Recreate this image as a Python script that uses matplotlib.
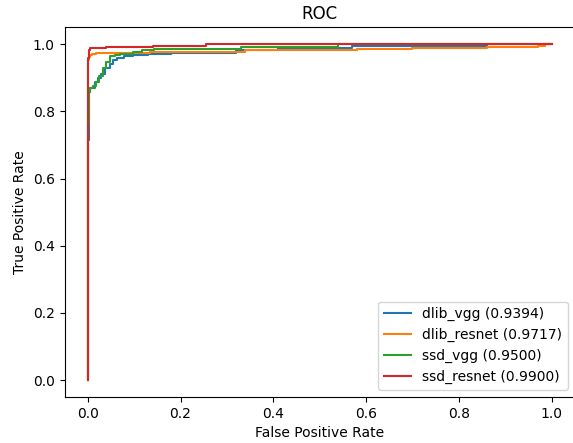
import matplotlib
matplotlib.use("Agg")
import matplotlib.pyplot as plt

# ROC curve points (fpr, tpr)
dlib_vgg_fpr = [0.0, 0.0, 0.003, 0.003, 0.006, 0.006, 0.015, 0.015, 0.022, 0.022, 0.028, 0.028, 0.037, 0.037,
                0.048, 0.048, 0.055, 0.055, 0.063, 0.063, 0.078, 0.078, 0.098, 0.098, 0.13, 0.13,
                0.18, 0.18, 0.24, 0.24, 0.32, 0.32, 0.41, 0.41, 0.57, 0.57, 0.86, 0.86, 1.0]
dlib_vgg_tpr = [0.0, 0.714, 0.714, 0.857, 0.857, 0.869, 0.869, 0.887, 0.887, 0.899, 0.899, 0.911, 0.911, 0.929,
                0.929, 0.940, 0.940, 0.952, 0.952, 0.958, 0.958, 0.964, 0.964, 0.967, 0.967, 0.970,
                0.970, 0.973, 0.973, 0.975, 0.975, 0.984, 0.984, 0.990, 0.990, 0.994, 0.994, 1.0, 1.0]

dlib_resnet_fpr = [0.0, 0.0, 0.002, 0.002, 0.005, 0.005, 0.009, 0.009, 0.018, 0.018, 0.134, 0.134,
                   0.34, 0.34, 0.58, 0.58, 0.70, 0.70, 0.86, 0.86, 0.97, 0.97, 0.985, 0.985, 1.0]
dlib_resnet_tpr = [0.0, 0.952, 0.952, 0.962, 0.962, 0.968, 0.968, 0.972, 0.972, 0.974, 0.974, 0.978,
                   0.978, 0.982, 0.982, 0.985, 0.985, 0.988, 0.988, 0.993, 0.993, 0.996, 0.996, 1.0, 1.0]

ssd_vgg_fpr = [0.0, 0.0, 0.003, 0.003, 0.006, 0.006, 0.011, 0.011, 0.017, 0.017, 0.024, 0.024, 0.033, 0.033,
               0.039, 0.039, 0.048, 0.048, 0.059, 0.059, 0.070, 0.070, 0.098, 0.098, 0.117, 0.117,
               0.143, 0.143, 0.33, 0.33, 0.54, 0.54, 1.0]
ssd_vgg_tpr = [0.0, 0.765, 0.765, 0.857, 0.857, 0.869, 0.869, 0.875, 0.875, 0.887, 0.887, 0.905, 0.905,
               0.929, 0.929, 0.946, 0.946, 0.964, 0.964, 0.968, 0.968, 0.972, 0.972, 0.976, 0.976,
               0.982, 0.982, 0.987, 0.987, 0.993, 0.993, 1.0, 1.0]

ssd_resnet_fpr = [0.0, 0.0, 0.002, 0.002, 0.004, 0.004, 0.04, 0.04, 0.141, 0.141, 0.254, 0.254, 1.0]
ssd_resnet_tpr = [0.0, 0.958, 0.958, 0.982, 0.982, 0.990, 0.990, 0.993, 0.993, 0.995, 0.995, 1.0, 1.0]

labels = ["dlib_vgg (0.9394)", "dlib_resnet (0.9717)", "ssd_vgg (0.9500)", "ssd_resnet (0.9900)"]
colors = ["#1f77b4", "#ff7f0e", "#2ca02c", "#d62728"]

fig = plt.figure(figsize=(5.73, 4.43), dpi=100)
ax = fig.add_axes([64.5 / 573, 46 / 443, 510.4 / 573, 369.6 / 443])

curves = [(dlib_vgg_fpr, dlib_vgg_tpr), (dlib_resnet_fpr, dlib_resnet_tpr),
          (ssd_vgg_fpr, ssd_vgg_tpr), (ssd_resnet_fpr, ssd_resnet_tpr)]
for (f, t), lab, c in zip(curves, labels, colors):
    ax.plot(f, t, color=c, label=lab, linewidth=1.5)

ax.set_xlim(-0.05, 1.05)
ax.set_ylim(-0.05, 1.05)
ax.set_xticks([0.0, 0.2, 0.4, 0.6, 0.8, 1.0])
ax.set_yticks([0.0, 0.2, 0.4, 0.6, 0.8, 1.0])
ax.set_title("ROC")
ax.set_xlabel("False Positive Rate")
ax.set_ylabel("True Positive Rate")
ax.legend(loc="lower right")
# the reference's right spine lies outside the cropped figure
ax.spines["right"].set_visible(False)

fig.savefig("out.png", dpi=100)
